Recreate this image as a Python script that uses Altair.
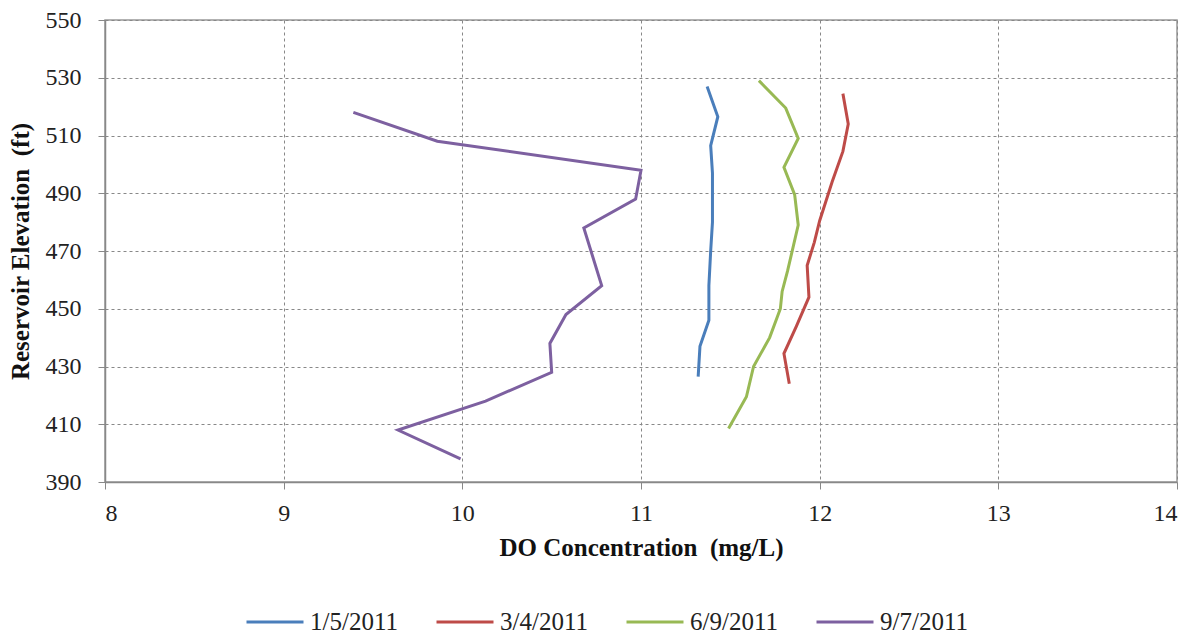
import altair as alt
import pandas as pd

series_names = ["1/5/2011", "3/4/2011", "6/9/2011", "9/7/2011"]
colors = ["#4a7ebb", "#be4b48", "#98b954", "#7d60a0"]

elev_0105 = [527, 516.5, 506.5, 497, 480, 470, 458, 446, 437, 426.5]
do_0105 = [11.37, 11.43, 11.39, 11.40, 11.40, 11.39, 11.38, 11.38, 11.33, 11.32]

elev_0304 = [524.5, 514, 504.5, 494, 480.5, 473, 465, 454, 444, 434.5, 424]
do_0304 = [12.13, 12.16, 12.13, 12.07, 12.00, 11.97, 11.93, 11.94, 11.87, 11.80, 11.83]

elev_0609 = [529, 519.5, 509, 499, 489.5, 479, 463, 456, 450, 440, 430, 419.5, 408.5]
do_0609 = [11.66, 11.81, 11.88, 11.80, 11.86, 11.88, 11.82, 11.79, 11.78, 11.72, 11.63, 11.59, 11.49]

elev_0907 = [518, 508, 498, 488, 478, 458, 448, 438, 428, 418, 408, 398]
do_0907 = [9.39, 9.86, 11.00, 10.97, 10.68, 10.78, 10.58, 10.49, 10.50, 10.13, 9.64, 9.99]

x_ticks = [8, 9, 10, 11, 12, 13, 14]
y_ticks = [390, 410, 430, 450, 470, 490, 510, 530, 550]

rows = []
for name, el, do in [
    (series_names[0], elev_0105, do_0105),
    (series_names[1], elev_0304, do_0304),
    (series_names[2], elev_0609, do_0609),
    (series_names[3], elev_0907, do_0907),
]:
    for e, d in zip(el, do):
        rows.append({"series": name, "elev": e, "do": d})
df = pd.DataFrame(rows)

chart = (
    alt.Chart(df)
    .mark_line(strokeWidth=3)
    .encode(
        x=alt.X(
            "do:Q",
            scale=alt.Scale(domain=[8, 14], nice=False, zero=False),
            axis=alt.Axis(
                values=x_ticks,
                title="DO Concentration\u00a0 (mg/L)",
                titleFont="Liberation Serif",
                titleFontSize=25,
                titleFontWeight="bold",
                titleColor="#111",
                titlePadding=10,
                labelFont="Liberation Serif",
                labelFontSize=24,
                labelColor="#222",
                labelPadding=12,
                tickSize=7,
                tickColor="#888",
                domainColor="#888",
                domainWidth=1.5,
                gridColor="#888",
                gridDash=[3, 3],
                gridWidth=1,
            ),
        ),
        y=alt.Y(
            "elev:Q",
            scale=alt.Scale(domain=[390, 550], nice=False, zero=False),
            axis=alt.Axis(
                values=y_ticks,
                title="Reservoir Elevation\u00a0 (ft)",
                titleFont="Liberation Serif",
                titleFontSize=25,
                titleFontWeight="bold",
                titleColor="#111",
                titlePadding=12,
                labelFont="Liberation Serif",
                labelFontSize=24,
                labelColor="#222",
                labelPadding=17,
                tickSize=7,
                tickColor="#888",
                domainColor="#888",
                domainWidth=1.5,
                gridColor="#888",
                gridDash=[3, 3],
                gridWidth=1,
            ),
        ),
        color=alt.Color(
            "series:N",
            scale=alt.Scale(domain=series_names, range=colors),
            legend=alt.Legend(
                title=None,
                orient="none",
                direction="horizontal",
                legendX=140,
                legendY=572,
                symbolType="stroke",
                symbolSize=3249,
                symbolStrokeWidth=3,
                labelFont="Liberation Serif",
                labelFontSize=25,
                labelColor="#222",
                labelOffset=5,
                columnPadding=32,
                padding=0,
            ),
        ),
        order=alt.Order("elev:Q", sort="descending"),
    )
    .properties(
        width=1072,
        height=462,
        autosize=alt.AutoSizeParams(type="none"),
        padding={"left": 97, "top": 12, "right": 11, "bottom": 152},
    )
    .configure_view(stroke="#999", strokeWidth=1.5)
)

chart.save("out.html", embed_options={"renderer": "svg", "actions": False})
